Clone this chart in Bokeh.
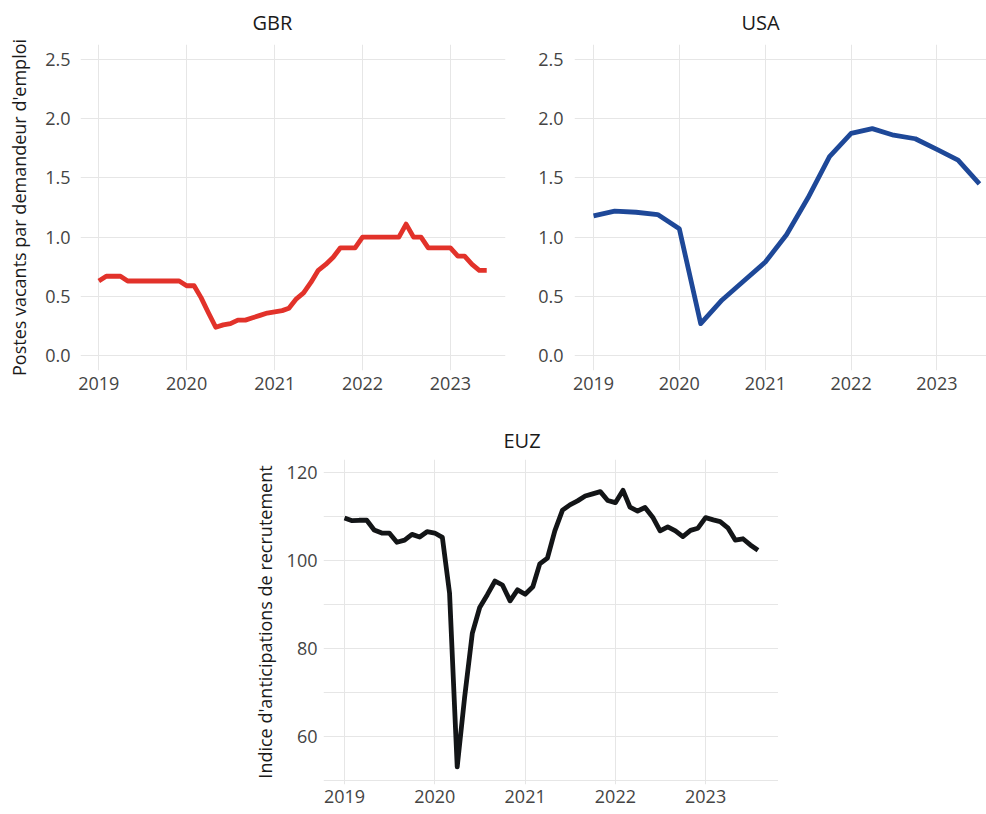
import pandas as pd
from bokeh.plotting import figure
from bokeh.layouts import column, row
from bokeh.models import (Range1d, FixedTicker, DatetimeTickFormatter,
                          NumeralTickFormatter, Title)
from bokeh.embed import file_html
from bokeh.resources import INLINE

# ---------------- data ----------------
gbr_values = [0.63, 0.67, 0.67, 0.67, 0.63, 0.63, 0.63, 0.63, 0.63, 0.63, 0.63, 0.63,
              0.59, 0.59, 0.49, 0.36, 0.24, 0.26, 0.27, 0.30, 0.30, 0.32, 0.34, 0.36,
              0.37, 0.38, 0.40, 0.48, 0.53, 0.62, 0.72, 0.77, 0.83, 0.91, 0.91, 0.91,
              1.00, 1.00, 1.00, 1.00, 1.00, 1.00, 1.11, 1.00, 1.00, 0.91, 0.91, 0.91,
              0.91, 0.84, 0.84, 0.77, 0.72, 0.72]
usa_values = [1.18, 1.22, 1.21, 1.19, 1.07, 0.27, 0.47, 0.63, 0.79, 1.02, 1.33, 1.68,
              1.875, 1.915, 1.86, 1.83, 1.74, 1.65, 1.45]
euz_values = [109.7, 109.1, 109.2, 109.2, 107.0, 106.3, 106.3, 104.2, 104.7, 106.0, 105.4, 106.6,
              106.3, 105.3, 92.7, 53.2, 69.0, 83.5, 89.4, 92.3, 95.4, 94.5, 90.9, 93.4,
              92.4, 94.1, 99.3, 100.6, 106.8, 111.5, 112.7, 113.6, 114.7, 115.2, 115.7, 113.7,
              113.2, 116.0, 112.2, 111.3, 112.1, 109.9, 106.8, 107.7, 106.8, 105.5, 106.9, 107.4,
              109.8, 109.3, 108.9, 107.5, 104.7, 105.0, 103.6, 102.4]

gbr_dates = pd.date_range("2019-01-01", periods=len(gbr_values), freq="MS")
usa_dates = pd.date_range("2019-01-01", periods=len(usa_values), freq="QS")
euz_dates = pd.date_range("2019-01-01", periods=len(euz_values), freq="MS")

year_ticks = [2019, 2020, 2021, 2022, 2023]
ratio_ticks = [0.0, 0.5, 1.0, 1.5, 2.0, 2.5]
index_ticks = [60, 80, 100, 120]
index_minor_ticks = [50, 70, 90, 110]

titles = ["GBR", "USA", "EUZ"]
ylabel_top = "Postes vacants par demandeur d'emploi"
ylabel_bottom = "Indice d'anticipations de recrutement"

colors = {"GBR": "#e2322a", "USA": "#1e4898", "EUZ": "#131517"}

FONT = "Open Sans"
GRID = "#e6e6e6"
TICK_SIZE = "18px"
LABEL_SIZE = "18px"
TITLE_SIZE = "20px"


def ms(ts):
    return pd.Timestamp(ts).value / 1e6


def make_fig(title, title_offset, title_standoff, xr, yr, fw, fh, bl, br, bt, bb,
             yticks, yminor, yfmt, ystand, xstand, ylabel=None, ylabel_stand=13):
    p = figure(x_axis_type="datetime", output_backend="svg", toolbar_location=None,
               frame_width=fw, frame_height=fh,
               min_border_left=bl, min_border_right=br,
               min_border_top=bt, min_border_bottom=bb,
               x_range=Range1d(ms(xr[0]), ms(xr[1])),
               y_range=Range1d(yr[0], yr[1]))
    p.title = Title(text=title, align="left", offset=title_offset,
                    vertical_align="middle",
                    standoff=title_standoff, text_font=FONT,
                    text_font_size=TITLE_SIZE, text_font_style="normal",
                    text_color="#1a1a1a")

    p.xaxis.ticker = FixedTicker(ticks=[ms(f"{y}-01-01") for y in year_ticks])
    p.xaxis.formatter = DatetimeTickFormatter(years="%Y", months="%Y", days="%Y",
                                              hours="%Y", minutes="%Y", seconds="%Y",
                                              minsec="%Y", hourmin="%Y",
                                              milliseconds="%Y", microseconds="%Y")
    p.yaxis.ticker = FixedTicker(ticks=yticks, minor_ticks=yminor)
    p.yaxis.formatter = NumeralTickFormatter(format=yfmt)

    for ax in p.axis:
        ax.axis_line_color = None
        ax.major_tick_line_color = None
        ax.minor_tick_line_color = None
        ax.major_tick_out = 0
        ax.minor_tick_out = 0
        ax.major_tick_in = 0
        ax.minor_tick_in = 0
        ax.major_label_text_font = FONT
        ax.major_label_text_font_size = TICK_SIZE
        ax.major_label_text_color = "#444444"
    p.xaxis.major_label_standoff = xstand
    p.yaxis.major_label_standoff = ystand

    if ylabel:
        p.yaxis.axis_label = ylabel
        p.yaxis.axis_label_text_font = FONT
        p.yaxis.axis_label_text_font_size = LABEL_SIZE
        p.yaxis.axis_label_text_font_style = "normal"
        p.yaxis.axis_label_text_color = "#1a1a1a"
        p.yaxis.axis_label_standoff = ylabel_stand

    p.xgrid.grid_line_color = GRID
    p.ygrid.grid_line_color = GRID
    p.xgrid.grid_line_width = 1
    p.ygrid.grid_line_width = 1
    if yminor:
        p.ygrid.minor_grid_line_color = GRID
        p.ygrid.minor_grid_line_width = 1
    p.outline_line_color = None
    p.background_fill_color = "white"
    p.border_fill_color = "white"
    return p


gbr = make_fig(titles[0], 172, 15, ("2018-10-17", "2023-08-18"), (-0.125, 2.625),
               425, 326, 80, 5, 43, 51, ratio_ticks, [], "0.0", 10, 6,
               ylabel=ylabel_top, ylabel_stand=11)
gbr.line(gbr_dates, gbr_values, line_color=colors["GBR"], line_width=4.8,
         line_join="round")

usa = make_fig(titles[1], 167, 15, ("2018-10-12", "2023-07-31"), (-0.125, 2.625),
               412, 326, 64, 0, 43, 51, ratio_ticks, [], "0.0", 11, 6)
usa.line(usa_dates, usa_values, line_color=colors["USA"], line_width=4.8,
         line_join="round")

euz = make_fig(titles[2], 180, 9, ("2018-10-08", "2023-10-23"), (49.2, 123.0),
               455, 325, 323, 0, 38, 31, index_ticks, index_minor_ticks, "0", 6, 5,
               ylabel=ylabel_bottom, ylabel_stand=7)
euz.line(euz_dates, euz_values, line_color=colors["EUZ"], line_width=4.8,
         line_join="round")

layout = column(row(gbr, usa), euz)

open("out.html", "w").write(file_html(layout, INLINE))
